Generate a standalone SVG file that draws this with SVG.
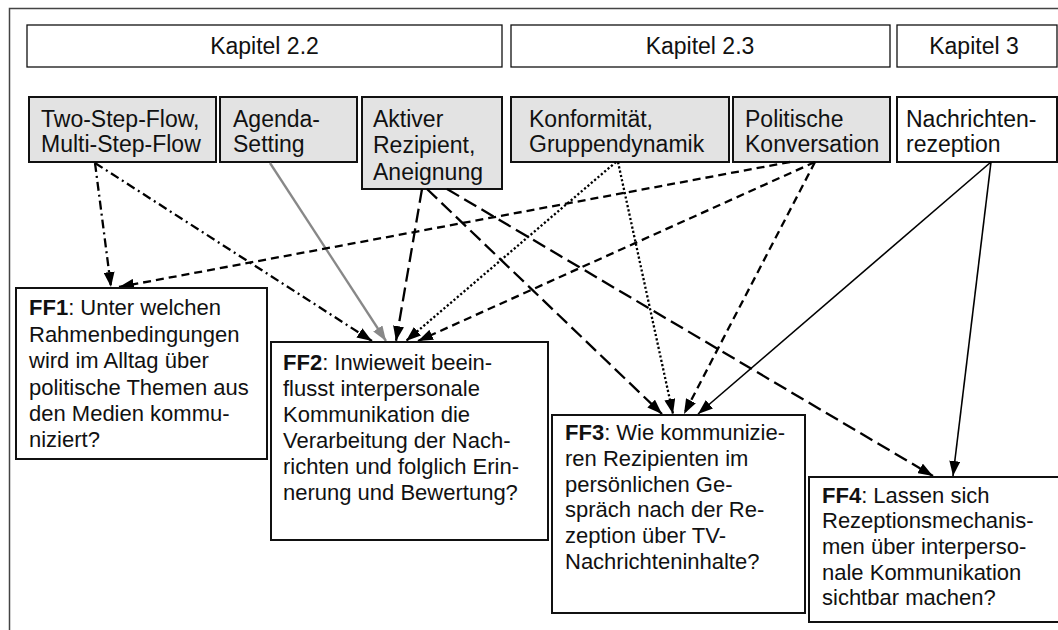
<svg xmlns="http://www.w3.org/2000/svg" width="1058" height="630" viewBox="0 0 1058 630">
  <style>
    text { font-family: "Liberation Sans", Arial, sans-serif; font-size: 22px; fill: #111; }
    .big { font-size: 23px; }
    .frame { fill: none; stroke: #444; stroke-width: 1.5; }
    .chap { fill: #fff; stroke: #111; stroke-width: 1.3; }
    .theory { fill: #e3e3e3; stroke: #111; stroke-width: 2; }
    .plain { fill: #fff; stroke: #111; stroke-width: 2; }
    .ff { fill: #fff; stroke: #111; stroke-width: 2; }
    .c { fill: none; stroke: #000; stroke-width: 2.3; }
    .dashdot { stroke-dasharray: 9 4 2 4; marker-end: url(#ah); }
    .longdash { stroke-dasharray: 14 6; marker-end: url(#ah); }
    .dash { stroke-dasharray: 8 5; marker-end: url(#ah); }
    .dot { stroke-dasharray: 2.2 2.2; marker-end: url(#ah); }
    .solid { stroke-width: 1.6; marker-end: url(#ah); }
    .grey { stroke: #888; marker-end: url(#ahg); }
    .b { font-weight: bold; }
  </style>
  <defs>
    <marker id="ah" viewBox="0 0 15 11" refX="15" refY="5.5" markerWidth="15" markerHeight="11" markerUnits="userSpaceOnUse" orient="auto">
      <path d="M0,0 L15,5.5 L0,11 z" fill="#000"/>
    </marker>
    <marker id="ahg" viewBox="0 0 15 11" refX="15" refY="5.5" markerWidth="15" markerHeight="11" markerUnits="userSpaceOnUse" orient="auto">
      <path d="M0,0 L15,5.5 L0,11 z" fill="#888"/>
    </marker>
  </defs>

  <rect width="1058" height="630" fill="#fff"/>
  <rect class="frame" x="9.5" y="8.5" width="1100" height="700"/>

  <!-- chapter headers -->
  <g id="kap22">
    <rect class="chap" x="27" y="25" width="475" height="42"/>
    <text class="big" x="264.5" y="54" text-anchor="middle">Kapitel 2.2</text>
  </g>
  <g id="kap23">
    <rect class="chap" x="511" y="25" width="379" height="42"/>
    <text class="big" x="700" y="54" text-anchor="middle">Kapitel 2.3</text>
  </g>
  <g id="kap3">
    <rect class="chap" x="897" y="25" width="160" height="42"/>
    <text class="big" x="974" y="54" text-anchor="middle">Kapitel 3</text>
  </g>

  <!-- theory boxes -->
  <g id="twostep">
    <rect class="theory" x="29" y="97" width="187" height="65"/>
    <text class="big" x="41" y="127">Two-Step-Flow,</text>
    <text class="big" x="41" y="152">Multi-Step-Flow</text>
  </g>
  <g id="agenda">
    <rect class="theory" x="220" y="97" width="137" height="65"/>
    <text class="big" x="233" y="127">Agenda-</text>
    <text class="big" x="233" y="152">Setting</text>
  </g>
  <g id="aktiver">
    <rect class="theory" x="362" y="97" width="140" height="92"/>
    <text class="big" x="373" y="127">Aktiver</text>
    <text class="big" x="373" y="153">Rezipient,</text>
    <text class="big" x="373" y="180">Aneignung</text>
  </g>
  <g id="konformitaet">
    <rect class="theory" x="511" y="97" width="218" height="65"/>
    <text class="big" x="529" y="127">Konformität,</text>
    <text class="big" x="529" y="152">Gruppendynamik</text>
  </g>
  <g id="politische">
    <rect class="theory" x="733" y="97" width="157" height="65"/>
    <text class="big" x="745" y="127">Politische</text>
    <text class="big" x="745" y="152">Konversation</text>
  </g>
  <g id="nachrichten">
    <rect class="plain" x="897" y="97" width="160" height="65"/>
    <text class="big" x="906" y="127">Nachrichten-</text>
    <text class="big" x="906" y="152">rezeption</text>
  </g>

  <!-- connectors -->
  <g id="connectors">
    <line class="c dashdot" x1="95" y1="163" x2="111" y2="287"/>
    <line class="c dashdot" x1="95" y1="163" x2="372" y2="341"/>
    <line class="c grey" x1="270" y1="163" x2="386" y2="341"/>
    <line class="c longdash" x1="422" y1="189" x2="396" y2="341"/>
    <line class="c longdash" x1="427" y1="189" x2="662" y2="414"/>
    <line class="c longdash" x1="447" y1="189" x2="933" y2="476"/>
    <line class="c dot" x1="616" y1="162" x2="406" y2="341"/>
    <line class="c dot" x1="618" y1="162" x2="673" y2="414"/>
    <line class="c dash" x1="790" y1="162" x2="119" y2="287"/>
    <line class="c dash" x1="815" y1="162" x2="418" y2="341"/>
    <line class="c dash" x1="815" y1="162" x2="684" y2="414"/>
    <line class="c solid" x1="991" y1="162" x2="698" y2="414"/>
    <line class="c solid" x1="991" y1="162" x2="953" y2="476"/>
  </g>

  <!-- research questions -->
  <g id="ff1">
    <rect class="ff" x="16" y="288" width="251" height="171"/>
    <text x="29" y="315"><tspan class="b">FF1</tspan>: Unter welchen</text>
    <text x="29" y="341.5">Rahmenbedingungen</text>
    <text x="29" y="368">wird im Alltag über</text>
    <text x="29" y="394.5">politische Themen aus</text>
    <text x="29" y="421">den Medien kommu-</text>
    <text x="29" y="447">niziert?</text>
  </g>
  <g id="ff2">
    <rect class="ff" x="271" y="342" width="277" height="198"/>
    <text x="283" y="370"><tspan class="b">FF2</tspan>: Inwieweit beein-</text>
    <text x="283" y="396">flusst interpersonale</text>
    <text x="283" y="422">Kommunikation die</text>
    <text x="283" y="448">Verarbeitung der Nach-</text>
    <text x="283" y="474">richten und folglich Erin-</text>
    <text x="283" y="500">nerung und Bewertung?</text>
  </g>
  <g id="ff3">
    <rect class="ff" x="552" y="415" width="253" height="198"/>
    <text x="565" y="440"><tspan class="b">FF3</tspan>: Wie kommunizie-</text>
    <text x="565" y="466">ren Rezipienten im</text>
    <text x="565" y="491.5">persönlichen Ge-</text>
    <text x="565" y="517">spräch nach der Re-</text>
    <text x="565" y="543">zeption über TV-</text>
    <text x="565" y="568.5">Nachrichteninhalte?</text>
  </g>
  <g id="ff4">
    <rect class="ff" x="809" y="477" width="260" height="145"/>
    <text x="822" y="503"><tspan class="b">FF4</tspan>: Lassen sich</text>
    <text x="822" y="528">Rezeptionsmechanis-</text>
    <text x="822" y="554">men über interperso-</text>
    <text x="822" y="580">nale Kommunikation</text>
    <text x="822" y="605">sichtbar machen?</text>
  </g>
</svg>
